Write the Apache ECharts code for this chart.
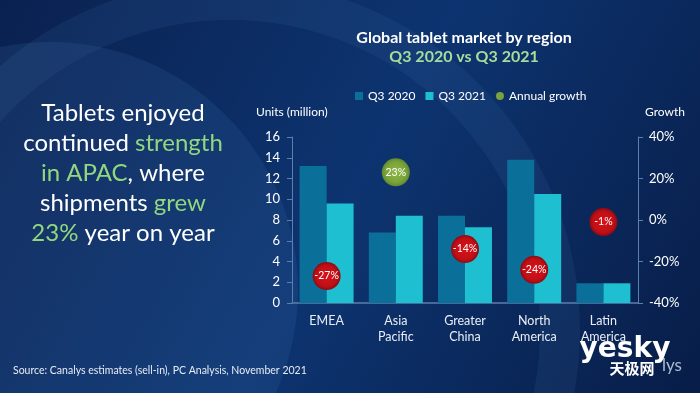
<!DOCTYPE html>
<html>
<head>
<meta charset="utf-8">
<script src="https://cdn.jsdelivr.net/npm/echarts@6/dist/echarts.min.js"></script>
<style>
html,body{margin:0;padding:0;background:#0a2a5c;}
#chart{width:700px;height:393px;}
</style>
</head>
<body>
<div id="chart"></div>
<script>
const categories = ['EMEA', 'Asia\nPacific', 'Greater\nChina', 'North\nAmerica', 'Latin\nAmerica'];
const q3_2020 = [13.2, 6.8, 8.4, 13.8, 1.9];
const q3_2021 = [9.6, 8.4, 7.3, 10.5, 1.9];
const growth = [-27, 23, -14, -24, -1];
const leftTicks = [0, 16, 2];
const rightTicks = [-40, 40, 20];

const FONT = 'Lato, "Open Sans", sans-serif';
const chart = echarts.init(document.getElementById('chart'));

function bubbleColor(v) {
  return v >= 0
    ? new echarts.graphic.RadialGradient(0.5, 0.5, 0.5, [{offset: 0, color: '#8db846'}, {offset: 0.75, color: '#7aa23a'}, {offset: 1, color: '#5f8a30'}])
    : new echarts.graphic.RadialGradient(0.5, 0.5, 0.5, [{offset: 0, color: '#d8121a'}, {offset: 0.75, color: '#c10f16'}, {offset: 1, color: '#8e0b12'}]);
}

chart.setOption({
  backgroundColor: new echarts.graphic.LinearGradient(0, 0, 1, 1, [
    {offset: 0, color: '#0a2150'},
    {offset: 0.5, color: '#0d3470'},
    {offset: 1, color: '#081d48'}
  ]),
  graphic: [
    {type: 'circle', shape: {cx: 50, cy: 290, r: 248}, style: {fill: 'rgba(60,110,170,0.18)'}, z: -10, silent: true},
    {type: 'circle', shape: {cx: 230, cy: 330, r: 330}, style: {fill: 'none', stroke: 'rgba(90,140,200,0.10)', lineWidth: 40}, z: -10, silent: true},
    {type: 'text', style: {text: 'Global tablet market by region', x: 464, y: 38, fill: '#ffffff', font: 'bold 16px ' + FONT, align: 'center', verticalAlign: 'middle'}},
    {type: 'text', style: {text: 'Q3 2020 vs Q3 2021', x: 464, y: 57, fill: '#a6dc9c', font: 'bold 16px ' + FONT, align: 'center', verticalAlign: 'middle'}},
    {type: 'text', style: {text: 'Units (million)', x: 256, y: 112, fill: '#ffffff', font: '12px ' + FONT, align: 'left', verticalAlign: 'middle'}},
    {type: 'text', style: {text: 'Growth', x: 645, y: 112, fill: '#ffffff', font: '12px ' + FONT, align: 'left', verticalAlign: 'middle'}},
    {type: 'text', style: {
      x: 123, y: 173, align: 'center', verticalAlign: 'middle',
      rich: {
        w: {fill: '#ffffff', font: '24px ' + FONT, lineHeight: 30},
        g: {fill: '#92d77f', font: '24px ' + FONT, lineHeight: 30}
      },
      text: '{w|Tablets enjoyed}\n{w|continued }{g|strength}\n{g|in APAC}{w|, where}\n{w|shipments }{g|grew}\n{g|23%}{w| year on year}'
    }},
    {type: 'text', style: {text: 'Source: Canalys estimates (sell-in), PC Analysis, November 2021', x: 13, y: 371, fill: '#e6ecf5', font: '10.5px ' + FONT, align: 'left', verticalAlign: 'middle'}},
    {type: 'text', style: {text: 'lys', x: 662, y: 366, fill: 'rgba(200,215,235,0.85)', font: '17px ' + FONT, align: 'left', verticalAlign: 'middle'}},
    {type: 'text', style: {text: 'yesky', x: 625, y: 350, fill: '#ffffff', font: 'bold 28px "DejaVu Sans", sans-serif', align: 'center', verticalAlign: 'middle'}},
    {type: 'text', style: {text: '天极网', x: 632, y: 368, fill: '#ffffff', font: 'bold 15px "Noto Sans CJK SC", sans-serif', align: 'center', verticalAlign: 'middle'}}
  ],
  legend: {
    top: 85,
    left: 350,
    itemWidth: 8,
    itemHeight: 8,
    itemGap: 10,
    textStyle: {color: '#ffffff', fontSize: 12, fontFamily: FONT},
    data: [
      {name: 'Q3 2020', icon: 'rect'},
      {name: 'Q3 2021', icon: 'rect'},
      {name: 'Annual growth', icon: 'circle', itemStyle: {color: '#7aa23a'}}
    ]
  },
  grid: {left: 292, right: 62, top: 137, bottom: 90},
  xAxis: {
    type: 'category',
    data: categories,
    axisLine: {lineStyle: {color: '#5b7fae', width: 1.5}},
    axisTick: {show: false},
    axisLabel: {color: '#e8eef6', fontSize: 12.5, fontFamily: FONT, lineHeight: 16, margin: 10}
  },
  yAxis: [
    {
      type: 'value', min: leftTicks[0], max: leftTicks[1], interval: leftTicks[2],
      axisLine: {show: true, lineStyle: {color: '#5b7fae'}},
      axisTick: {show: true, length: 5, lineStyle: {color: '#5b7fae'}},
      splitLine: {show: false},
      axisLabel: {color: '#ffffff', fontSize: 13, fontFamily: FONT, margin: 12}
    },
    {
      type: 'value', min: rightTicks[0], max: rightTicks[1], interval: rightTicks[2],
      position: 'right',
      axisLine: {show: true, lineStyle: {color: '#5b7fae'}},
      axisTick: {show: true, length: 5, lineStyle: {color: '#5b7fae'}},
      splitLine: {show: false},
      axisLabel: {color: '#ffffff', fontSize: 13, fontFamily: FONT, margin: 11, formatter: '{value}%'}
    }
  ],
  series: [
    {name: 'Q3 2020', type: 'bar', data: q3_2020, barGap: '0%', barCategoryGap: '22%', itemStyle: {color: '#0b7099'}},
    {name: 'Q3 2021', type: 'bar', data: q3_2021, itemStyle: {color: '#1dbfd0'}},
    {
      name: 'Annual growth', type: 'scatter', yAxisIndex: 1, symbolSize: 28, z: 5,
      data: growth.map(v => ({value: v, itemStyle: {color: bubbleColor(v), opacity: 1}})),
      itemStyle: {color: '#7aa23a', opacity: 1},
      label: {show: true, position: 'inside', formatter: p => p.value + '%', color: '#ffffff', fontSize: 10.5, fontFamily: FONT}
    }
  ]
});
</script>
</body>
</html>
